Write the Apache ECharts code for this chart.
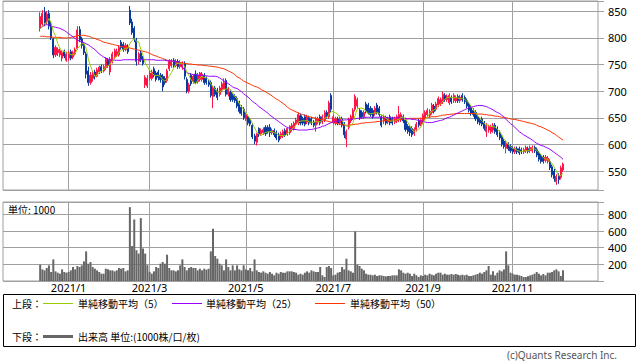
<!DOCTYPE html>
<html><head><meta charset="utf-8">
<script src="https://cdn.jsdelivr.net/npm/echarts@6/dist/echarts.min.js"></script>
<style>html,body{margin:0;padding:0;background:#fff}#c{width:638px;height:362px}</style>
</head><body><div id="c"></div>
<script>
// ---- axis calendar (trading days) ----
const axisStart = '2020-11-18';
const axisEnd = '2021-12-28';
const holidays = ['2020-11-23','2020-12-31','2021-01-01','2021-01-11','2021-02-11','2021-02-23','2021-04-29','2021-05-03','2021-05-04','2021-05-05','2021-07-22','2021-07-23','2021-08-09','2021-09-20','2021-09-23','2021-11-03','2021-11-23'];
const tickLabels = ['2021/1','2021/3','2021/5','2021/7','2021/9','2021/11'];
const dataStart = '2020-12-14';
const priceTicks = [550,600,650,700,750,800,850];
const volumeTicks = [200,400,600,800];

// ---- daily values (from 2020-12-14) ----
const open = [818,826,848,830,846,826,798,768,772,768, 762,775,758,762,774,764,770,780,816,798,
788,770,738,716,724,736,728,736,746,738, 744,758,736,756,764,768,768,792,788,778,
784,852,830,818,796,756,772,762,712,710, 724,724,742,734,736,730,728,724,720,742,
748,758,748,756,746,745,752,722,700,730, 718,732,718,722,722,730,724,718,716,690,
706,702,694,702,704,720,694,698,692,690, 686,678,670,666,648,652,646,636,616,604,
630,620,622,632,632,632,622,626,622,618, 614,616,626,620,622,628,630,638,640,654,
648,652,642,650,648,642,636,642,652,642, 646,660,652,692,642,640,648,640,648,638,
610,632,644,650,666,672,664,660,652,676, 674,668,664,658,674,668,652,644,650,642,
652,648,642,644,646,646,652,646,634,632, 630,620,628,644,638,642,650,656,654,660,
672,666,674,676,680,692,684,678,688,682, 682,690,682,692,688,682,676,670,664,660,
652,646,648,640,624,627,624,627,636,630, 622,614,606,593,600,596,592,586,592,592,
590,586,588,592,588,588,594,590,584,578, 576,570,568,568,558,550,530,540,538,552];
const close = [840,846,828,845,822,800,768,782,778,776, 772,766,770,772,762,772,778,815,796,786,
772,732,716,730,734,728,740,745,738,746, 760,748,760,770,776,774,782,782,778,786,
774,828,810,798,756,770,760,752,726,724, 734,736,730,722,726,722,708,716,738,756,
756,748,756,746,754,752,728,700,712,714, 728,716,730,734,732,716,716,712,692,706,
694,688,706,714,716,694,704,684,684,682, 672,662,658,650,656,640,638,614,606,620,
618,626,628,620,624,622,626,618,612,608, 620,624,618,630,634,636,640,646,656,640,
640,638,652,640,640,636,648,648,640,652, 660,652,678,666,652,648,640,650,636,618,
624,646,652,664,690,684,650,652,660,662, 660,656,652,668,660,656,636,652,640,648,
640,640,648,652,656,656,644,628,624,622, 618,628,638,636,646,654,660,664,662,674,
662,676,686,684,694,684,690,692,680,692, 688,682,689,684,680,672,664,658,656,648,
642,640,638,630,636,633,633,636,624,618, 612,600,596,602,592,588,586,592,586,584,
586,590,594,587,594,594,588,580,572,568, 568,576,574,556,543,536,540,534,556,563];
const low = [812,822,822,826,816,796,762,764,766,764, 756,762,755,757,758,760,767,778,792,780,
768,724,710,712,718,722,726,732,734,735, 740,744,730,752,760,764,765,778,774,775,
770,824,806,792,748,750,755,748,706,706, 720,720,726,718,720,716,700,712,716,738,
744,744,745,742,742,740,722,696,696,710, 714,713,714,718,718,712,712,708,688,668,
690,683,690,698,704,690,690,680,680,678, 668,658,654,646,644,636,634,610,600,598,
614,616,618,616,620,614,618,614,608,604, 610,612,614,616,618,624,626,634,636,636,
636,634,638,636,636,632,624,638,636,638, 642,648,648,660,638,636,636,636,632,612,
595,628,640,646,662,668,646,648,648,658, 656,652,648,654,656,652,632,638,636,638,
636,636,638,640,642,642,640,624,620,616, 614,616,624,632,634,638,646,652,650,656,
658,662,670,672,676,680,680,674,676,678, 678,678,678,680,676,668,660,654,652,644,
638,636,634,626,614,622,620,622,620,614, 608,596,592,583,588,584,582,582,582,580,
582,582,584,583,584,584,584,576,568,564, 564,566,564,552,538,530,524,526,534,548];
const high = [848,852,858,850,852,832,800,786,782,780, 776,778,774,776,778,776,782,822,822,802,
792,774,746,736,738,740,744,748,750,750, 764,762,764,774,780,780,786,796,792,790,
788,860,836,822,800,774,776,766,730,730, 740,740,746,738,740,734,732,728,742,760,
760,762,760,760,758,756,756,726,716,734, 732,739,734,736,736,734,728,722,720,710,
710,706,710,718,724,724,708,702,696,694, 690,682,674,670,660,656,650,640,620,622,
632,630,632,636,636,638,630,630,626,622, 624,628,630,632,636,640,643,650,660,658,
652,656,656,654,652,646,652,652,656,656, 664,664,682,696,656,652,652,654,652,642,
628,650,656,668,694,688,668,664,664,680, 678,672,668,672,678,672,656,656,654,652,
656,652,652,656,672,660,656,650,638,636, 634,632,642,648,650,658,664,668,666,678,
676,680,690,688,699,696,694,696,692,696, 692,694,693,696,692,686,680,674,668,664,
656,650,652,644,640,637,637,640,640,634, 626,618,610,608,604,600,596,596,596,596,
594,594,598,596,598,598,598,594,588,582, 580,580,578,572,562,554,544,546,560,566];
const volume = [196,140,128,156,188,108,260,116,100,88, 140,108,100,108,128,168,140,180,168,188,
236,356,208,228,168,148,128,108,88,88, 148,140,128,128,116,128,156,148,156,116,
128,888,420,740,370,330,756,390,330,190, 110,88,116,168,156,208,228,208,316,156,
128,128,116,128,188,260,168,128,156,168, 156,156,128,148,128,148,136,148,356,628,
300,268,208,188,128,260,168,128,188,128, 188,140,128,188,140,128,156,116,260,128,
108,100,116,100,88,108,88,68,100,88, 108,100,100,116,116,116,108,100,76,88,
76,100,116,100,128,116,108,108,168,68, 48,168,180,156,68,76,100,108,168,140,
268,128,116,100,596,196,180,148,128,88, 76,76,68,76,60,68,68,60,56,60,
60,68,68,68,140,128,100,88,100,88, 60,88,68,48,68,60,76,68,88,76,
68,88,100,100,76,88,76,76,84,76, 84,76,68,76,68,76,60,60,68,76,
84,100,88,108,128,180,76,116,68,100, 128,116,140,356,188,100,88,76,76,68,
60,48,48,56,68,76,88,108,88,68, 84,68,100,100,108,128,140,116,60,128];
const ma5 = [817,822,827,829,836.2,828.2,812.6,803.4,790,780.8, 775.2,774.8,772.4,771.2,768.4,768.4,770.8,779.8,784.6,789.4,
789.4,780.2,760.4,747.2,736.8,728,729.6,735.4,737,739.4, 745.8,747.4,750.4,756.8,762.8,765.6,772.4,776.8,778.4,780.4,
780.4,789.6,795.2,799.2,793.2,792.4,778.8,767.2,752.8,746.4, 739.2,734.4,730,729.2,729.6,727.2,721.6,718.8,722,728,
734.8,742.8,750.8,752.4,752,751.2,747.2,736,729.2,721.2, 716.4,714,720,724.4,728,725.6,725.6,722,713.6,708.4,
704,698.4,697.2,701.6,703.6,703.6,706.8,702.4,696.4,689.6, 685.2,676.8,671.6,664.8,659.6,653.2,648.4,639.6,630.8,623.6,
619.2,616.8,619.6,622.4,623.2,624,624,622,620.4,617.2, 616.8,616.4,616.4,620,625.2,628.4,631.6,637.2,642.4,643.6,
644.4,644,645.2,642,642,641.2,643.2,642.4,642.4,644.8, 649.6,650.4,656.4,661.6,661.6,659.2,656.8,651.2,645.2,638.4,
633.6,634.8,635.2,640.8,655.2,667.2,668,668,667.2,661.6, 656.8,658,658,659.6,659.2,658.4,654.4,654.4,648.8,646.4,
643.2,644,643.2,645.6,647.2,650.4,651.2,647.2,641.6,634.8, 627.2,624,626,628.4,633.2,640.4,646.8,652,657.2,662.8,
664.4,667.6,672,676.4,680.4,684.8,687.6,688.8,688,687.6, 688.4,686.8,686.2,687,684.6,681.4,677.8,671.6,666,659.6,
653.6,648.8,644.8,639.6,637.2,635.4,634,633.6,632.4,628.8, 624.6,618,610,605.6,600.4,595.6,592.8,592,588.8,587.2,
586.8,587.6,588,588.2,590.2,591.8,591.4,588.6,585.6,580.4, 575.2,572.8,571.6,568.4,563.4,557,549.8,541.8,541.8,545.8];
const ma25 = [818,821,824,825,824,822,821,820,819,818, 816,814,811,808,805,802,799,796,794,793,
791,789,787,784,781,778,774,770,767,764, 762,760,759,758,758,758,758,758,759,759,
759,759,759,759,759,759,759,759,759,759, 759,759,759,758,758,758,758,758,757,757,
757,756,756,755,752,746,740,735,733,732, 731,731,730,730,730,729,729,728,728,728,
728,727,725,722,719,717,714,711,708,706, 705,702,699,695,692,689,685,681,678,675,
671,668,665,662,659,655,652,649,646,643, 640,637,634,632,630,629,628,628,627,627,
627,627,627,628,628,629,630,631,632,634, 635,637,639,641,642,643,644,645,645,646,
646,647,647,648,648,649,649,650,650,651, 651,651,651,651,651,651,651,651,651,650,
650,650,650,650,650,649,649,649,648,648, 647,647,646,645,644,643,642,641,641,641,
642,643,644,645,646,648,650,651,653,655, 657,659,661,663,665,667,669,670,671,672,
673,673,673,672,671,669,667,665,662,660, 658,655,651,647,643,639,636,632,628,624,
621,618,616,613,611,608,605,602,600,598, 597,595,593,591,588,585,582,579,576,572];
const ma50 = [803,803,803,802,802,802,801,801,801,801, 800,800,800,800,801,802,803,804,805,805,
805,804,803,802,800,799,797,796,794,792, 791,790,789,788,787,786,785,784,783,782,
782,781,780,779,778,777,776,775,774,773, 771,769,767,766,764,763,761,760,758,757,
756,756,755,754,754,753,752,752,751,751, 750,750,749,749,749,748,748,747,747,746,
746,745,744,743,742,740,738,736,734,731, 727,725,722,719,717,715,713,711,709,708,
706,703,701,699,696,694,691,688,685,683, 680,677,674,670,667,665,663,661,659,657,
656,655,653,652,651,650,649,648,647,646, 645,644,643,642,641,640,639,638,637,636,
636,636,637,637,638,638,639,640,640,641, 641,641,642,642,643,643,644,644,645,645,
645,646,646,647,647,647,648,648,648,649, 649,649,649,649,649,650,650,651,651,652,
652,652,653,654,655,655,656,656,657,657, 658,658,658,658,658,658,658,658,658,658,
657,657,657,656,656,655,655,654,653,653, 652,651,651,650,649,648,647,647,646,645,
644,643,642,641,640,639,638,636,634,633, 631,629,627,625,622,620,617,614,611,608];

// ---- build categories ----
const hol = new Set(holidays);
const cats = [];
for (let t = Date.parse(axisStart + 'T00:00:00Z'); t <= Date.parse(axisEnd + 'T00:00:00Z'); t += 86400000) {
  const d = new Date(t); const wd = d.getUTCDay();
  const s = d.toISOString().slice(0, 10);
  if (wd !== 0 && wd !== 6 && !hol.has(s)) cats.push(s);
}
const tickMap = {};
tickLabels.forEach(l => {
  const [y, m] = l.split('/');
  const key = y + '-' + String(m).padStart(2, '0');
  const first = cats.find(c => c.startsWith(key));
  if (first) tickMap[first] = l;
});
const isTick = (i, v) => tickMap[v] !== undefined;
const off = cats.indexOf(dataStart);
function pad(arr) {
  const out = new Array(cats.length).fill('-');
  arr.forEach((v, i) => { out[off + i] = v; });
  return out;
}
const candle = pad(open.map((o, i) => [o, close[i], low[i], high[i]]));

const FONT = '"Noto Sans CJK JP", "Noto Sans", sans-serif';
const LATIN = '"Noto Sans", "DejaVu Sans", sans-serif';
const RED = '#ff1446', BLUE = '#0a3a9e';
const chart = echarts.init(document.getElementById('c'), null, { renderer: 'svg', width: 638, height: 362 });
const gridLine = { lineStyle: { color: '#a0a0a0', width: 1 } };
chart.setOption({
  animation: false,
  backgroundColor: '#fff',
  textStyle: { fontFamily: FONT },
  grid: [
    { left: 3, right: 40, top: 1, height: 189, show: true, borderColor: '#a0a0a0', borderWidth: 1 },
    { left: 3, right: 40, top: 202, height: 79, show: true, borderColor: '#a0a0a0', borderWidth: 1 }
  ],
  xAxis: [
    { type: 'category', gridIndex: 0, data: cats, boundaryGap: false,
      axisLine: { show: false }, axisTick: { show: false }, axisLabel: { show: false },
      splitLine: Object.assign({ show: true, interval: isTick }, gridLine) },
    { type: 'category', gridIndex: 1, data: cats, boundaryGap: false,
      axisLine: { show: false }, axisTick: { show: false },
      axisLabel: { show: true, interval: isTick, formatter: v => tickMap[v] || '', margin: 1,
        fontSize: 11, lineHeight: 11, color: '#000', fontFamily: LATIN },
      splitLine: Object.assign({ show: true, interval: isTick }, gridLine) }
  ],
  yAxis: [
    { type: 'value', gridIndex: 0, position: 'right', min: 514.4, max: 869.3,
      minInterval: 50, maxInterval: 50, splitNumber: 7, scale: true,
      axisLine: { show: false }, axisTick: { show: true, length: 6, lineStyle: { color: '#a0a0a0' } },
      axisLabel: { margin: 10, fontSize: 11, color: '#000', fontFamily: LATIN,
        formatter: v => priceTicks.includes(Math.round(v * 1000) / 1000) ? String(v) : '' },
      splitLine: gridLine },
    { type: 'value', gridIndex: 1, position: 'right', min: 0, max: 950, interval: 200,
      axisLine: { show: false }, axisTick: { show: true, length: 6, lineStyle: { color: '#a0a0a0' } },
      axisLabel: { margin: 10, fontSize: 11, color: '#000', fontFamily: LATIN,
        formatter: v => volumeTicks.includes(v) ? String(v) : '' },
      splitLine: gridLine }
  ],
  series: [
    { type: 'candlestick', xAxisIndex: 0, yAxisIndex: 0, data: candle, barWidth: 1.6,
      itemStyle: { color: RED, color0: BLUE, borderColor: RED, borderColor0: BLUE, borderWidth: 1 } },
    { type: 'line', name: 'ma50', xAxisIndex: 0, yAxisIndex: 0, data: pad(ma50), showSymbol: false,
      lineStyle: { color: '#ff3300', width: 1 } },
    { type: 'line', name: 'ma25', xAxisIndex: 0, yAxisIndex: 0, data: pad(ma25), showSymbol: false,
      lineStyle: { color: '#9900ff', width: 1 } },
    { type: 'line', name: 'ma5', xAxisIndex: 0, yAxisIndex: 0, data: pad(ma5), showSymbol: false,
      lineStyle: { color: '#99cc00', width: 1 } },
    { type: 'bar', xAxisIndex: 1, yAxisIndex: 1, data: pad(volume), barWidth: 2,
      itemStyle: { color: '#666666' } }
  ],
  graphic: [
    { type: 'text', x: 8, y: 209, style: { text: '単位: 1000', font: '10px ' + FONT, fill: '#000', verticalAlign: 'middle' } },
    { type: 'rect', shape: { x: 3.5, y: 294.5, width: 632, height: 52 }, style: { fill: 'none', stroke: '#000', lineWidth: 1 } },
    { type: 'text', x: 12, y: 303, style: { text: '上段：', font: '10px ' + FONT, fill: '#000', verticalAlign: 'middle' } },
    { type: 'line', shape: { x1: 43, y1: 303.5, x2: 73, y2: 303.5 }, style: { stroke: '#99cc00', lineWidth: 1 } },
    { type: 'text', x: 78, y: 303, style: { text: '単純移動平均（5）', font: '10px ' + FONT, fill: '#000', verticalAlign: 'middle' } },
    { type: 'line', shape: { x1: 172, y1: 303.5, x2: 202, y2: 303.5 }, style: { stroke: '#9900ff', lineWidth: 1 } },
    { type: 'text', x: 206, y: 303, style: { text: '単純移動平均（25）', font: '10px ' + FONT, fill: '#000', verticalAlign: 'middle' } },
    { type: 'line', shape: { x1: 315, y1: 303.5, x2: 345, y2: 303.5 }, style: { stroke: '#ff3300', lineWidth: 1 } },
    { type: 'text', x: 350, y: 303, style: { text: '単純移動平均（50）', font: '10px ' + FONT, fill: '#000', verticalAlign: 'middle' } },
    { type: 'text', x: 12, y: 336, style: { text: '下段：', font: '10px ' + FONT, fill: '#000', verticalAlign: 'middle' } },
    { type: 'line', shape: { x1: 43, y1: 336.5, x2: 73, y2: 336.5 }, style: { stroke: '#666666', lineWidth: 3 } },
    { type: 'text', x: 78, y: 336, style: { text: '出来高 単位:(1000株/口/枚)', font: '10px ' + FONT, fill: '#000', verticalAlign: 'middle' } },
    { type: 'text', x: 617, y: 354.5, style: { text: '(c)Quants Research Inc.', font: '10px ' + LATIN, fill: '#555', align: 'right', verticalAlign: 'middle' } }
  ]
});
</script>
</body></html>
